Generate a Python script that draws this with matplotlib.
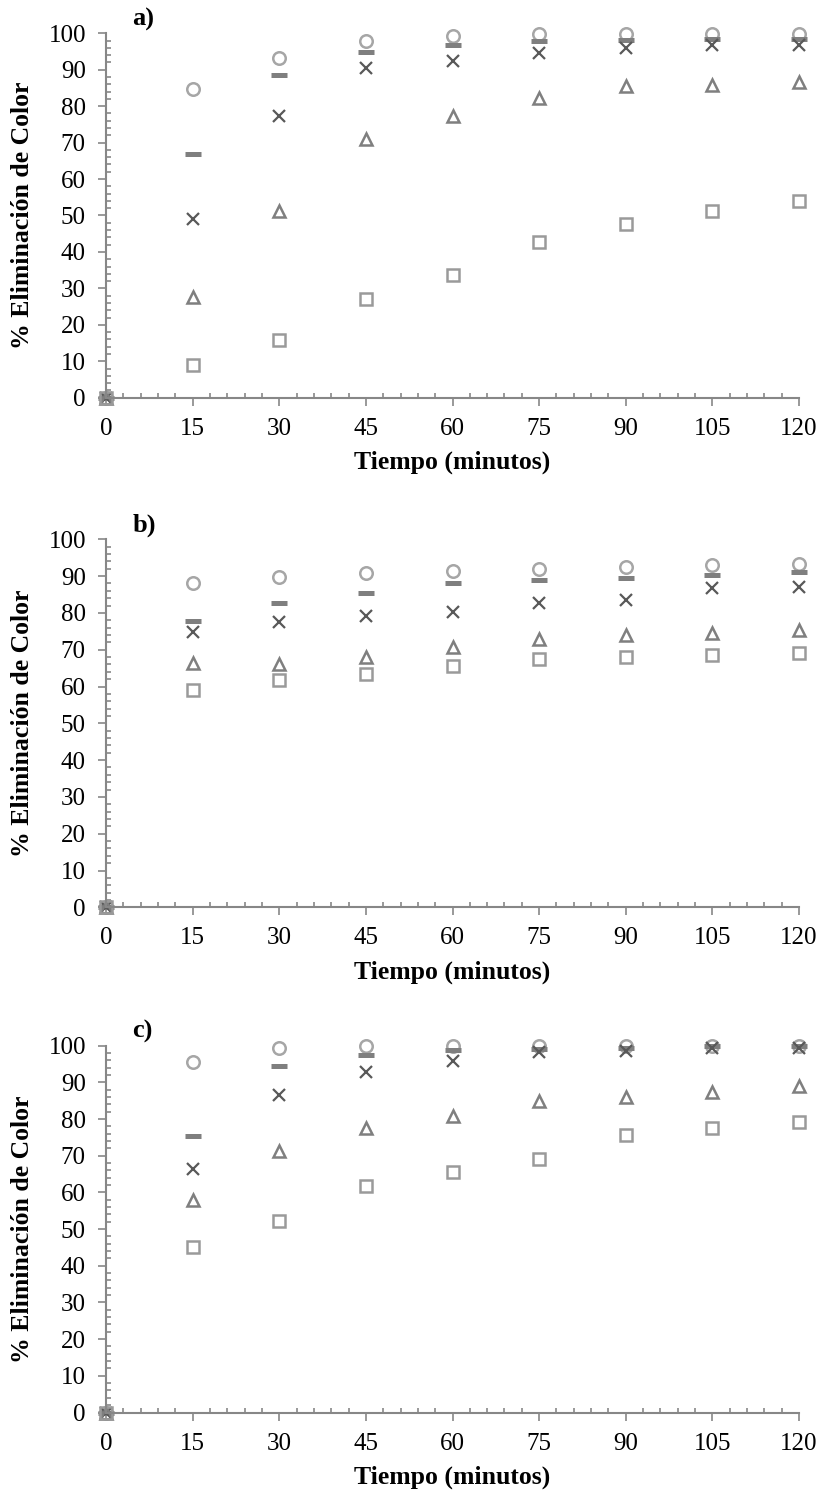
import matplotlib
matplotlib.use("Agg")
import matplotlib.pyplot as plt
from matplotlib.ticker import MultipleLocator

plt.rcParams['font.family'] = ['Liberation Serif', 'DejaVu Serif']

tiempo = [0, 15, 30, 45, 60, 75, 90, 105, 120]
x_ticks = [0, 15, 30, 45, 60, 75, 90, 105, 120]
panel_labels = ['a)', 'b)', 'c)']

# Panel a
a_circle = [0, 84.8, 93.2, 97.8, 99.3, 99.7, 99.8, 99.9, 99.9]
a_dash = [0, 66.8, 88.6, 94.8, 96.8, 97.8, 98.2, 98.4, 98.5]
a_cross = [0, 49.0, 77.4, 90.6, 92.5, 94.5, 95.9, 96.7, 96.8]
a_tri = [0, 27.7, 51.3, 71.0, 77.3, 82.3, 85.6, 85.9, 86.7]
a_square = [0, 9.0, 15.8, 27.1, 33.7, 42.6, 47.6, 51.3, 54.1]

# Panel b
b_circle = [0, 88.2, 89.7, 90.8, 91.4, 91.8, 92.4, 93.0, 93.4]
b_dash = [0, 77.9, 82.6, 85.5, 88.0, 88.9, 89.4, 90.3, 91.2]
b_cross = [0, 74.7, 77.4, 79.2, 80.3, 82.8, 83.6, 86.7, 87.1]
b_tri = [0, 66.3, 66.1, 67.9, 70.8, 73.0, 74.0, 74.6, 75.3]
b_square = [0, 59.0, 61.8, 63.4, 65.6, 67.4, 68.1, 68.6, 69.2]

# Panel c
c_circle = [0, 95.6, 99.3, 100.0, 100.0, 100.0, 100.0, 100.0, 100.0]
c_dash = [0, 75.5, 94.6, 97.5, 98.8, 99.0, 99.5, 99.8, 100.0]
c_cross = [0, 66.4, 86.6, 92.8, 95.8, 98.4, 98.6, 99.3, 99.5]
c_tri = [0, 58.0, 71.2, 77.5, 80.7, 84.8, 86.1, 87.5, 89.0]
c_square = [0, 45.1, 52.3, 61.8, 65.5, 69.0, 75.7, 77.5, 79.3]

panels = [
    (a_circle, a_dash, a_cross, a_tri, a_square),
    (b_circle, b_dash, b_cross, b_tri, b_square),
    (c_circle, c_dash, c_cross, c_tri, c_square),
]

W, H = 822, 1493
fig = plt.figure(figsize=(W / 100, H / 100), dpi=100)

left = 106 / W
width = (799 - 106) / W
tops = [33.3, 539.3, 1045.7]
bottoms = [397.7, 907.3, 1412.5]

axis_col = '#878787'
c_light = '#a6a6a6'
c_mid = '#7f7f7f'
c_dark = '#595959'

for i, (circ, dash, cross, tri, sq) in enumerate(panels):
    t, b = tops[i], bottoms[i]
    hpx = b - t
    ax = fig.add_axes([left, 1 - b / H, width, hpx / H])
    kw = dict(linestyle='none', clip_on=False)
    ax.plot(tiempo, circ, marker='o', ms=9, mfc='none', mec=c_light, mew=1.8, **kw)
    ax.plot(tiempo, dash, marker='_', ms=11, mec=c_mid, mew=3.6, **kw)
    ax.plot(tiempo, cross, marker='x', ms=8.5, mec=c_dark, mew=1.6, **kw)
    ax.plot(tiempo, tri, marker='^', ms=9, mfc='none', mec=c_mid, mew=1.8, **kw)
    ax.plot(tiempo, sq, marker='s', ms=9, mfc='none', mec='#9a9a9a', mew=1.8, **kw)

    ax.set_xlim(0, 120)
    ax.set_ylim(0, 100)
    ax.set_xticks(x_ticks)
    ax.xaxis.set_minor_locator(MultipleLocator(3))
    ax.yaxis.set_major_locator(MultipleLocator(10))
    ax.yaxis.set_minor_locator(MultipleLocator(2))
    for s in ['top', 'right']:
        ax.spines[s].set_visible(False)
    for s in ['left', 'bottom']:
        ax.spines[s].set_color(axis_col)
        ax.spines[s].set_linewidth(1.5)
    ax.tick_params(which='major', direction='out', length=5.5, width=1.2,
                   color=axis_col, labelsize=18, pad=9, labelcolor='black')
    ax.tick_params(which='minor', direction='in', length=3.6, width=1.2,
                   color=axis_col)
    ax.set_ylabel('% Eliminación de Color', fontsize=18.5, fontweight='bold',
                  va='center', ha='center')
    ax.yaxis.set_label_coords(-83 / 693, 0.5)
    ax.set_xlabel('Tiempo (minutos)', fontsize=18.5, fontweight='bold',
                  va='center', ha='center')
    ax.xaxis.set_label_coords(0.5, -65 / hpx)
    ax.text(0.038, 1.038, panel_labels[i], transform=ax.transAxes,
            fontsize=19, fontweight='bold', ha='left', va='center')

fig.savefig('out.png', dpi=100)
